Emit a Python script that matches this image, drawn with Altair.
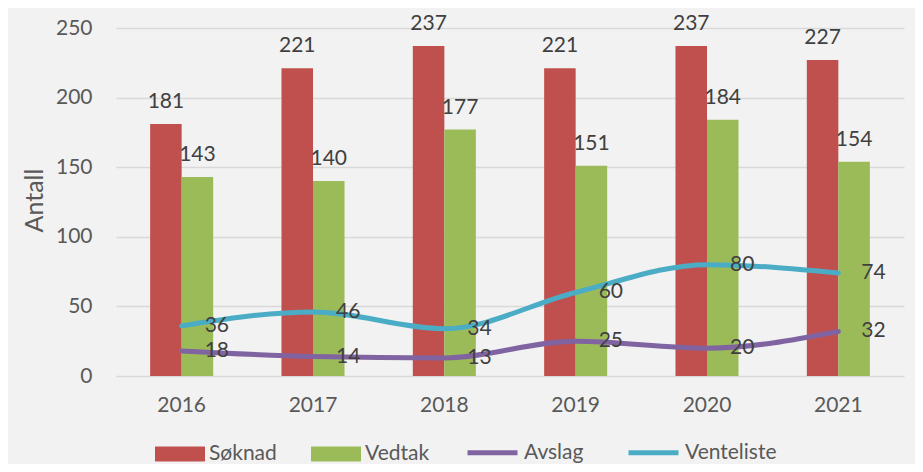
import altair as alt
import pandas as pd

years = ["2016", "2017", "2018", "2019", "2020", "2021"]
soknad = [181, 221, 237, 221, 237, 227]
vedtak = [143, 140, 177, 151, 184, 154]
avslag = [18, 14, 13, 25, 20, 32]
venteliste = [36, 46, 34, 60, 80, 74]
bar_series = ["Søknad", "Vedtak"]
line_series = ["Avslag", "Venteliste"]
bar_colors = ["#C0504D", "#9BBB59"]
line_colors = ["#8064A2", "#4BACC6"]
y_ticks = [0, 50, 100, 150, 200, 250]

bars_df = pd.DataFrame({
    "year": years * 2,
    "series": [bar_series[0]] * len(years) + [bar_series[1]] * len(years),
    "value": soknad + vedtak,
})
lines_df = pd.DataFrame({
    "year": years * 2,
    "series": [line_series[0]] * len(years) + [line_series[1]] * len(years),
    "value": avslag + venteliste,
})

FONT = "Lato"
TXT = "#404040"
AX = "#595959"
FS = 21

x = alt.X("year:N", sort=years,
          scale=alt.Scale(paddingInner=0.52, paddingOuter=0.26),
          axis=alt.Axis(title=None, labelAngle=0, ticks=False, domain=False, grid=False,
                        labelPadding=18, labelFontSize=FS, labelColor=AX, labelFont=FONT))
y = alt.Y("value:Q", scale=alt.Scale(domain=[0, 250], nice=False),
          axis=alt.Axis(values=y_ticks, title="Antall", ticks=False, domain=False,
                        grid=True, gridColor="#D9D9D9", gridWidth=1.5,
                        labelPadding=24, labelFontSize=FS, labelColor=AX, labelFont=FONT,
                        titleFont=FONT, titleFontSize=25, titleColor=AX, titleFontWeight="normal",
                        titleAngle=270, titleX=-82, titleY=172,
                        titleAlign="center", titleBaseline="middle"))
xoff = alt.XOffset("series:N", sort=bar_series, scale=alt.Scale(paddingInner=0, paddingOuter=0))

legend_common = dict(orient="none", direction="horizontal", title=None,
                     labelFont=FONT, labelFontSize=FS, labelColor=AX,
                     symbolSize=2500, labelOffset=4)

bars = alt.Chart(bars_df).mark_bar().encode(
    x=x, y=y, xOffset=xoff,
    fill=alt.Fill("series:N", sort=bar_series,
                  scale=alt.Scale(domain=bar_series, range=bar_colors),
                  legend=alt.Legend(symbolType="M-1,-0.3H1V0.3H-1Z", symbolStrokeWidth=0,
                                    columnPadding=34,
                                    legendX=39, legendY=401, **legend_common)),
)

bar_labels = alt.Chart(bars_df).mark_text(dy=-22, baseline="middle", font=FONT,
                                          fontSize=FS, color=TXT).encode(
    x=x, y=y, xOffset=xoff, text="value:Q")

lines = alt.Chart(lines_df).mark_line(strokeWidth=5, strokeCap="round",
                                      interpolate="monotone").encode(
    x=x, y=y,
    stroke=alt.Stroke("series:N", sort=line_series,
                      scale=alt.Scale(domain=line_series, range=line_colors),
                      legend=alt.Legend(symbolType="M-1,0H1", symbolStrokeWidth=5,
                                        columnPadding=34,
                                        legendX=349, legendY=397, **legend_common)),
)

line_labels = alt.Chart(lines_df).mark_text(align="left", dx=23, baseline="middle",
                                            font=FONT, fontSize=FS, color=TXT).encode(
    x=x, y=y, text="value:Q", detail="series:N")

chart = alt.layer(bars, lines, bar_labels, line_labels).properties(
    width=788, height=348,
    autosize=alt.AutoSizeParams(type="none"),
    padding={"left": 108, "top": 20, "right": 11, "bottom": 88},
    background="#F2F2F2",
).configure_view(stroke=None)

chart.save("out.html", embed_options={"renderer": "svg", "actions": False})
